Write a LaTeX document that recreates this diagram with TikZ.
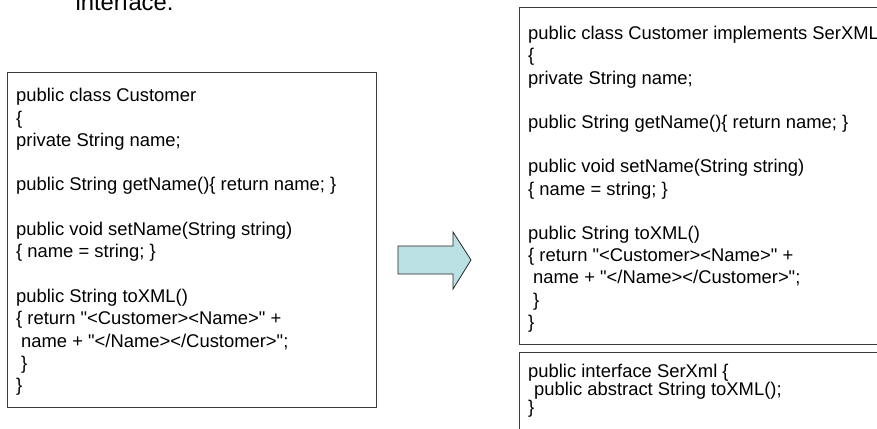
\documentclass[tikz,border=0pt]{standalone}
\usepackage{fontspec}
\setmainfont{Liberation Sans}[Ligatures=TeXOff]
\definecolor{arrowfill}{RGB}{187,224,227}
\definecolor{boxline}{RGB}{60,60,60}
\tikzset{
  codebox/.style={draw=boxline, line width=0.9pt, inner sep=0pt, anchor=north west},
  codetext/.style={inner sep=0pt, anchor=north west, align=left, text=black,
                   font=\fontsize{18.4pt}{22.3pt}\selectfont},
  codetextR/.style={codetext, font=\fontsize{18.4pt}{22.2pt}\selectfont},
  codetextI/.style={codetext, font=\fontsize{18.4pt}{17.9pt}\selectfont},
  bigarrow/.style={draw=black!85, line width=0.8pt, fill=arrowfill, line join=miter}
}
\begin{document}
\begin{tikzpicture}[x=1pt,y=-1pt]
\useasboundingbox (0,0) rectangle (877,428);
\clip (0,0) rectangle (877,428);

\node[inner sep=0pt, anchor=base west, font=\fontsize{23.8pt}{28pt}\selectfont] (title) at (75.4,11) {interface.};

% left box
\node[codebox, minimum width=368.5pt, minimum height=335pt] (leftbox) at (7,72) {};
\node[codetext] (lefttext) at (16,85.5) {\rule{0pt}{16pt}public class Customer\\
\{\\
private String name;\\
\mbox{}\\
public String getName()\{ return name; \}\\
\mbox{}\\
public void setName(String string)\\
\{ name = string; \}\\
\mbox{}\\
public String toXML()\\
\{ return "<Customer><Name>" +\\
\hspace*{5pt}name + "</Name></Customer>";\\
\hspace*{5pt}\}\\
\}};

% right upper box
\node[codebox, minimum width=400pt, minimum height=337pt] (rightbox) at (519,7) {};
\node[codetextR] (righttext) at (528,23.5) {\rule{0pt}{16pt}public class Customer implements SerXML\\
\{\\
private String name;\\
\mbox{}\\
public String getName()\{ return name; \}\\
\mbox{}\\
public void setName(String string)\\
\{ name = string; \}\\
\mbox{}\\
public String toXML()\\
\{ return "<Customer><Name>" +\\
\hspace*{5pt}name + "</Name></Customer>";\\
\hspace*{5pt}\}\\
\}};

% right lower box
\node[codebox, minimum width=400pt, minimum height=100pt] (ifacebox) at (519,352) {};
\node[codetextI] (ifacetext) at (528,361.3) {\rule{0pt}{16pt}public interface SerXml \{\\
\hspace*{6pt}public abstract String toXML();\\
\}};

% block arrow
\draw[bigarrow] (398,246) -- (453,246) -- (453,232) -- (471,260) -- (453,289)
  -- (453,274) -- (398,274) -- cycle;
\end{tikzpicture}
\end{document}
